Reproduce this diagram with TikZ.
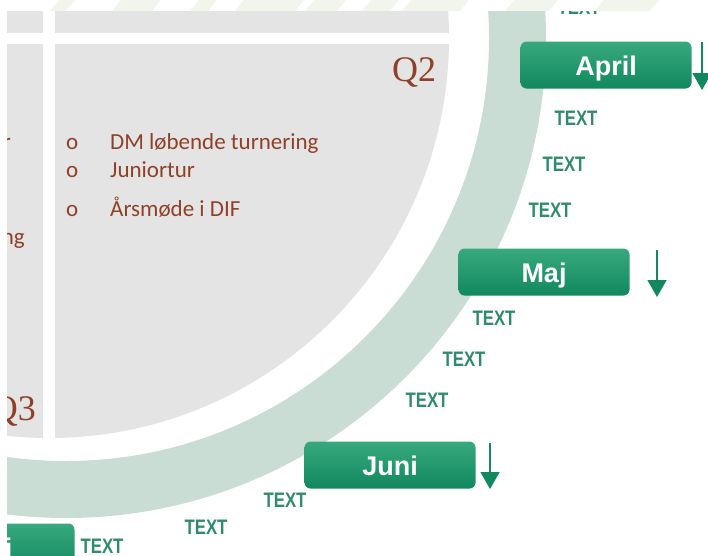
\documentclass[tikz,border=0pt]{standalone}
\usepackage{fontspec}
\setmainfont{Carlito}
\newfontfamily\boxfont{Liberation Sans}
\newfontfamily\lblfont[FakeStretch=0.8]{Liberation Sans}
\newfontfamily\qfont{Liberation Serif}
\usepackage{tikz}
\usetikzlibrary{arrows.meta}
\definecolor{qgray}{HTML}{E5E4E5}
\definecolor{ringgreen}{HTML}{C9DDD5}
\definecolor{boxtop}{HTML}{38A97F}
\definecolor{boxbot}{HTML}{12885E}
\definecolor{lblgreen}{HTML}{2F8B6C}
\definecolor{qbrown}{HTML}{8E4127}
\definecolor{wmark}{HTML}{F2F5EC}

\begin{document}
\begin{tikzpicture}[x=1pt,y=-1pt,
    monthbox/.style={rounded corners=6pt,top color=boxtop,bottom color=boxbot,
      minimum width=171pt,minimum height=47pt,inner sep=0pt,text height=20pt,text depth=0pt,
      text=white,font=\boxfont\bfseries\fontsize{27}{30}\selectfont},
    lbl/.style={text=lblgreen,inner sep=0pt,font=\lblfont\bfseries\fontsize{21}{23}\selectfont},
    item/.style={text=qbrown,anchor=base west,inner sep=0pt,font=\fontsize{23}{28}\selectfont},
    qlabel/.style={text=qbrown,inner sep=0pt,font=\qfont\fontsize{36}{40}\selectfont},
    montharrow/.style={draw=boxbot,line width=1.3pt,-{Triangle[width=19pt,length=17pt]}}]
  \useasboundingbox (0,0) rectangle (708,555);
  \begin{scope}
    \clip (0,0) rectangle (708,11);
    \foreach \wx/\ww in {50/16,112/40,190/18,235/60,305/32,362/28,402/58,505/44,595/55}
      \fill[wmark] (\wx,11) -- (\wx+\ww,11) -- (\wx+\ww+9,0) -- (\wx+9,0) -- cycle;
  \end{scope}
  \begin{scope}
    \clip (7,11) rectangle (708,555);
    \fill[qgray] (49,38) circle[radius=400pt];
    \begin{scope}
      \clip (49,38) circle[radius=400pt];
      \fill[white] (7,33) rectangle (460,44);
      \fill[white] (43,11) rectangle (55,460);
    \end{scope}
    \fill[ringgreen,even odd rule] (66,38) circle[radius=480pt] (66,38) circle[radius=423pt];

    \node[qlabel] (q2) at (414,72) {Q2};
    \node[qlabel,anchor=east] (q3) at (36,411) {Q3};
    \node[item,anchor=base east] (q1a) at (11,149) {r};
    \node[item,anchor=base east] (q1b) at (25,244) {ng};
    \node[item] (b1) at (66,149) {o};
    \node[item] (b2) at (66,177) {o};
    \node[item] (b3) at (66,216) {o};
    \node[item] (i1) at (110,149) {DM løbende turnering};
    \node[item] (i2) at (110,177) {Juniortur};
    \node[item] (i3) at (110,216) {Årsmøde i DIF};

    \node[monthbox] (april) at (606,65) {April};
    \node[monthbox] (maj) at (544,272) {Maj};
    \node[monthbox] (juni) at (390,465) {Juni};
    \node[monthbox] (juli) at (-11,547) {Juli};

    \coordinate (aprilA) at (702,42);
    \coordinate (aprilB) at (702,90);
    \coordinate (majA) at (657,250);
    \coordinate (majB) at (657,297);
    \coordinate (juniA) at (490,443);
    \coordinate (juniB) at (490,489);
    \draw[montharrow] (aprilA) -- (aprilB);
    \draw[montharrow] (majA) -- (majB);
    \draw[montharrow] (juniA) -- (juniB);

    \node[lbl] (t0) at (579,7) {TEXT};
    \node[lbl] (t1) at (576,118) {TEXT};
    \node[lbl] (t2) at (564,164) {TEXT};
    \node[lbl] (t3) at (550,210) {TEXT};
    \node[lbl] (t4) at (494,318) {TEXT};
    \node[lbl] (t5) at (464,359) {TEXT};
    \node[lbl] (t6) at (427,400) {TEXT};
    \node[lbl] (t7) at (285,500) {TEXT};
    \node[lbl] (t8) at (206,527) {TEXT};
    \node[lbl] (t9) at (102,546) {TEXT};
  \end{scope}
\end{tikzpicture}
\end{document}
